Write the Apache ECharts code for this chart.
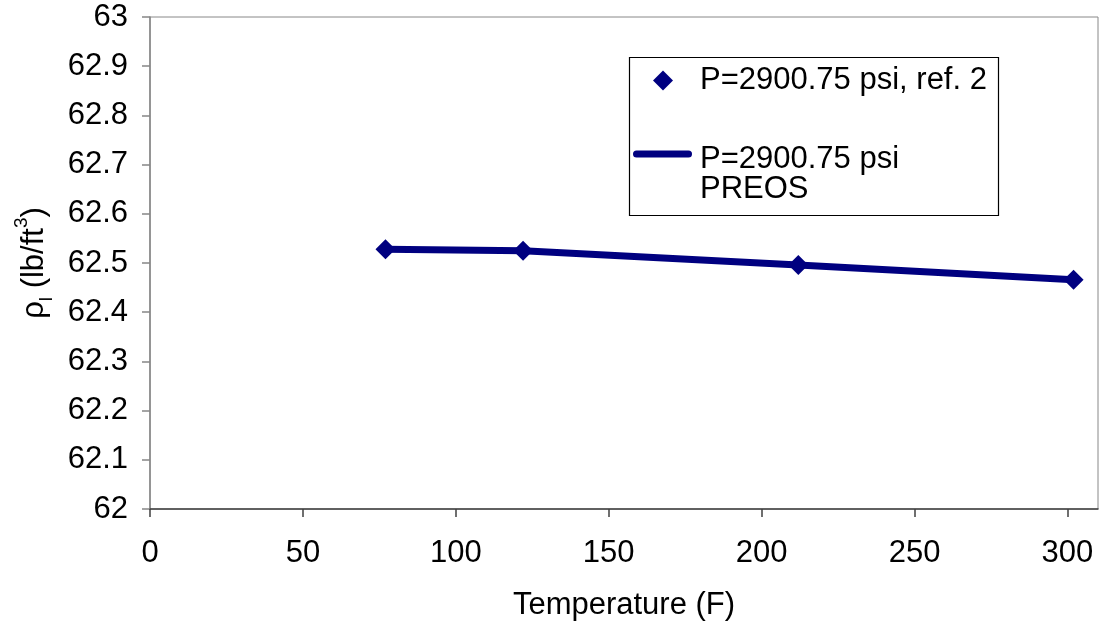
<!DOCTYPE html>
<html>
<head>
<meta charset="utf-8">
<script src="https://cdn.jsdelivr.net/npm/echarts@6/dist/echarts.min.js"></script>
<style>
  html, body { margin: 0; padding: 0; background: #ffffff; }
  #chart { width: 1101px; height: 626px; }
</style>
</head>
<body>
<div id="chart"></div>
<script>
// Liquid density of water vs temperature at 2900.75 psi
const temperatures = [77, 122, 212, 302];              // F
const refDensity = [62.528, 62.525, 62.496, 62.466];   // lb/ft3, measured (ref. 2)
const preosDensity = [62.528, 62.525, 62.496, 62.466]; // lb/ft3, Peng-Robinson EOS
const xTicks = [0, 50, 100, 150, 200, 250, 300];
const refName = 'P=2900.75 psi, ref. 2';
const preosName = 'P=2900.75 psi\nPREOS';

const FONT = '"Liberation Sans", Arial, sans-serif';
const NAVY = '#000080';
const FS = 31;

const chart = echarts.init(document.getElementById('chart'), null, { renderer: 'canvas' });

const option = {
  animation: false,
  backgroundColor: '#ffffff',
  textStyle: { fontFamily: FONT },
  grid: {
    left: 150, right: 3, top: 17, bottom: 116,
    show: true, borderColor: '#888888', borderWidth: 1, backgroundColor: 'transparent'
  },
  xAxis: {
    type: 'value',
    min: 0, max: 310,
    name: 'Temperature (F)',
    nameLocation: 'middle',
    nameGap: 81,
    nameTextStyle: { fontSize: FS, color: '#000', fontFamily: FONT },
    axisLine: { show: true, onZero: false, lineStyle: { color: '#404040', width: 1.5 } },
    axisTick: { show: true, inside: false, length: 8, customValues: xTicks, lineStyle: { color: '#404040', width: 1.5 } },
    axisLabel: { customValues: xTicks, fontSize: FS, color: '#000', margin: 29, fontFamily: FONT },
    splitLine: { show: false }
  },
  yAxis: {
    type: 'value',
    min: 62, max: 63, interval: 0.1,
    name: '{r|ρ}{s|l}{r| (lb/ft}{p|3}{r|)}',
    nameLocation: 'middle',
    nameRotate: 90,
    nameGap: 94,
    nameTextStyle: {
      color: '#000',
      rich: {
        r: { fontSize: FS, fontFamily: FONT, color: '#000', lineHeight: 44 },
        s: { fontSize: 19, fontFamily: FONT, color: '#000', lineHeight: 28, verticalAlign: 'bottom' },
        p: { fontSize: 19, fontFamily: FONT, color: '#000', lineHeight: 26, verticalAlign: 'top' }
      }
    },
    axisLine: { show: true, onZero: false, lineStyle: { color: '#868686', width: 1.5 } },
    axisTick: { show: true, inside: false, length: 8, lineStyle: { color: '#868686', width: 1.5 } },
    axisLabel: {
      fontSize: FS, color: '#000', margin: 22, fontFamily: FONT,
      formatter: v => String(Math.round(v * 10) / 10)
    },
    splitLine: { show: false }
  },
  legend: [
    {
      data: [{ name: refName, icon: 'diamond' }],
      left: 653, top: 65,
      padding: 0,
      itemWidth: 20, itemHeight: 20,
      selectedMode: false,
      formatter: name => '{g| }{t|' + name + '}',
      textStyle: {
        fontSize: FS, color: '#000', fontFamily: FONT,
        rich: {
          g: { width: 22, lineHeight: 32 },
          t: { fontSize: FS, color: '#000', fontFamily: FONT, lineHeight: 32 }
        }
      }
    },
    {
      data: [{ name: preosName, icon: 'path://M3.5,0 H55.5 A3.5,3.5 0 0 1 55.5,7 H3.5 A3.5,3.5 0 0 1 3.5,0 Z' }],
      left: 633, top: 119,
      padding: 0,
      itemWidth: 59, itemHeight: 7,
      selectedMode: false,
      // a spacer line above the two-line name keeps its first line level with the icon
      formatter: name => '{sp| }\n' + name.split('\n').map(s => '{g| }{t|' + s + '}').join('\n'),
      textStyle: {
        fontSize: FS, color: '#000', fontFamily: FONT,
        rich: {
          sp: { lineHeight: 40, fontSize: 10 },
          g: { width: 3, lineHeight: 30 },
          t: { fontSize: FS, color: '#000', fontFamily: FONT, lineHeight: 30 }
        }
      }
    }
  ],
  graphic: [
    {
      type: 'rect',
      left: 627, top: 55,
      shape: { width: 369, height: 158 },
      style: { fill: 'none', stroke: '#000', lineWidth: 1.2 },
      z: 5
    }
  ],
  series: [
    {
      name: preosName,
      type: 'line',
      data: temperatures.map((t, i) => [t, preosDensity[i]]),
      symbol: 'none',
      lineStyle: { color: NAVY, width: 7 },
      itemStyle: { color: NAVY },
      z: 2
    },
    {
      name: refName,
      type: 'scatter',
      data: temperatures.map((t, i) => [t, refDensity[i]]),
      symbol: 'diamond',
      symbolSize: 20,
      itemStyle: { color: NAVY, opacity: 1 },
      z: 3
    }
  ]
};

chart.setOption(option);
</script>
</body>
</html>
